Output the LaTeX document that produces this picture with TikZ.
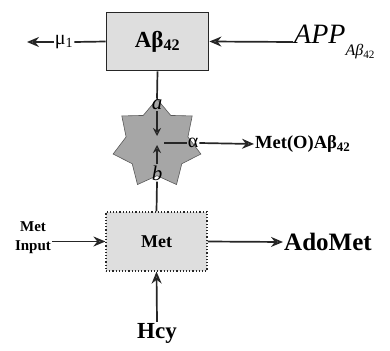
\documentclass[tikz,border=0pt]{standalone}
\usepackage{fontspec}
\setmainfont{Liberation Serif}
\usepackage{xcolor}
\usepackage{tikz}
\usetikzlibrary{arrows.meta, positioning, shapes.geometric, calc}
\definecolor{inkdark}{HTML}{262626}
\definecolor{boxgray}{HTML}{DEDEDE}
\definecolor{stargray}{HTML}{A6A6A6}
\definecolor{tipgray}{HTML}{9A9A9A}
\tikzset{
  link/.style={draw=inkdark, line width=1.7pt},
  flow/.style={link, -{Stealth[length=12pt, width=10pt, fill=tipgray]}},
  tick/.style={draw=inkdark, line width=1.2pt, -{Stealth[length=8pt, width=8pt, fill=tipgray]}},
  solidbox/.style={draw=inkdark, line width=1.8pt, fill=boxgray, minimum width=102pt, minimum height=58pt},
  dotbox/.style={draw=inkdark, dotted, line width=1.2pt, fill=boxgray, minimum width=101pt, minimum height=59pt},
}
\begin{document}
\begin{tikzpicture}[x=1pt, y=-1pt]
      \useasboundingbox (0,0) rectangle (390,350);
      % upper block
      \node[solidbox, font=\fontsize{23}{27}\selectfont\bfseries] (ab) at (157.5,41.5) {Aβ\textsubscript{42}};
      \node[font=\fontsize{20}{24}\selectfont, inner sep=1pt] (mu) at (64,42) {μ\textsubscript{1}};
      \coordinate (muend) at (27,42);
      \node[anchor=west, font=\fontsize{28}{32}\selectfont\itshape, inner sep=1pt] (app) at (293,42)
        {APP\raisebox{-12pt}{\fontsize{16}{18}\selectfont Aβ\textsubscript{\upshape 42}}};
      \draw[link] (ab.west) -- (mu.east);
      \draw[flow] (mu.west) -- (muend);
      \draw[flow] (app.west) -- (ab.east);
      % star
      \node[star, star points=7, star point ratio=1.42, minimum size=90pt, inner sep=0pt,
            draw=gray!70!black, line width=0.6pt, fill=stargray] (st) at (157,144) {};
      \node[font=\fontsize{21}{25}\selectfont\itshape, inner sep=1pt] (alab) at (157,105) {a};
      \node[font=\fontsize{21}{25}\selectfont\itshape, inner sep=1pt] (blab) at (157,173) {b};
      \draw[link] (ab.south) -- (alab.north);
      \coordinate (adown) at (157,136);
      \coordinate (bup) at (157,145);
      \draw[tick] (alab.south) -- (adown);
      \draw[tick] (blab.north) -- (bup);
      \coordinate (sc) at (164,143);
      \node[font=\fontsize{20}{24}\selectfont, inner sep=1pt] (alpha) at (193,143) {α};
      \node[anchor=west, font=\fontsize{18.5}{22}\selectfont\bfseries, inner sep=1pt] (meto) at (254,144) {Met(O)Aβ\textsubscript{42}};
      \draw[link] (sc) -- (alpha.west);
      \draw[flow] (alpha.east) -- (meto.west);
      % lower block
      \node[dotbox, font=\fontsize{18}{21}\selectfont\bfseries] (met) at (156.5,241.5) {Met};
      \draw[link] (blab.south) -- (met.north);
      \node[align=center, font=\fontsize{15}{19}\selectfont\bfseries, inner sep=1pt] (mi) at (33,238) {Met\\Input};
      \draw[flow] (mi.east |- met) -- (met.west);
      \node[anchor=west, font=\fontsize{25}{30}\selectfont\bfseries, inner sep=1pt] (ado) at (283,242) {AdoMet};
      \draw[flow] (met.east) -- (ado.west);
      \node[font=\fontsize{23}{28}\selectfont\bfseries, inner sep=1pt] (hcy) at (157,333) {Hcy};
      \draw[flow] (hcy.north) -- (met.south);
    \end{tikzpicture}
\end{document}
